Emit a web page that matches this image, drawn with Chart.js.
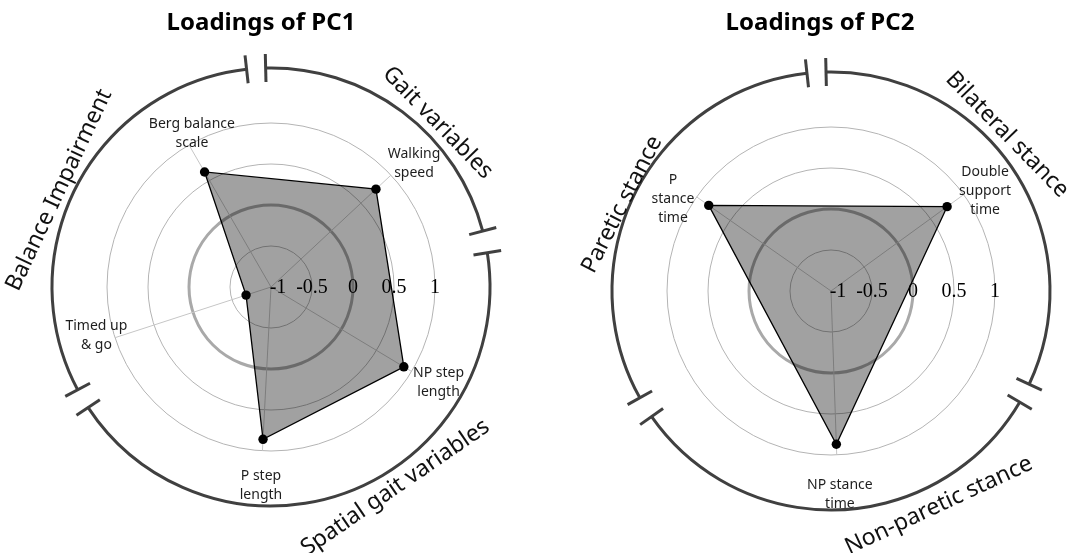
<!DOCTYPE html>
<html>
<head>
<meta charset="utf-8">
<script src="https://cdn.jsdelivr.net/npm/chart.js@4.4.1/dist/chart.umd.min.js"></script>
<style>
  html, body { margin: 0; padding: 0; background: #fff; overflow: hidden; width: 1079px; height: 553px; }
  canvas { position: absolute; top: 0; }
  #pc1 { left: 0; }
  #pc2 { left: 539px; }
</style>
</head>
<body>
<canvas id="pc1" width="540" height="553"></canvas>
<canvas id="pc2" width="540" height="553"></canvas>
<script>
// Radial tick values shared by both panels
const tickValues = [-1, -0.5, 0, 0.5, 1];

// PC1 loadings ("\n" marks where a variable name wraps)
const pc1Variables = ['Berg balance\nscale', 'Walking\nspeed', 'NP step\nlength', 'P step\nlength', 'Timed up\n& go'];
const pc1Loadings = [0.62, 0.75, 0.89, 0.86, -0.68];
const pc1Groups = ['Gait variables', 'Spatial gait variables', 'Balance Impairment'];

// PC2 loadings
const pc2Variables = ['P\nstance\ntime', 'Double\nsupport\ntime', 'NP stance\ntime'];
const pc2Loadings = [0.82, 0.75, 0.87];
const pc2Groups = ['Bilateral stance', 'Non-paretic stance', 'Paretic stance'];

// Layout: bearings are degrees clockwise from 12 o'clock.
// groupText entries: [bearing, distance from centre, text rotation (null = tangent)]
const pc1Layout = {
  canvasLeft: 0, center: [271, 287],
  title: 'Loadings of PC1', titleDx: -10,
  axisBearing: [329.6, 47, 121.4, 182.9, 252.3],
  labelBearing: [332.8, 49.3, 119.6, 182.9, 254.5],
  labelReach: [1.11, 1.30, 1.35, 1.42, 1.21],
  groupArcs: [[-1.4, 75.2], [81, 236.6], [242, 353.6]],
  groupText: [[45.4, 234, 45.7], [148.2, 236, -34.5], [-65.4, 233, -64.8]]
};
const pc2Layout = {
  canvasLeft: 539, center: [831, 291],
  title: 'Loadings of PC2', titleDx: -11,
  axisBearing: [305.2, 54.1, 178.1],
  labelBearing: [300.2, 57, 177.5],
  labelReach: [1.23, 1.24, 1.49],
  groupArcs: [[-1.3, 115.2], [120.5, 235], [240.8, 353.7]],
  groupText: [[48.4, 235.5, 45.8], [153.3, 240, -25], [-67.5, 226, -63]]
};

const SLOTS = 360;          // one angular slot per degree
const RADIUS = 164;         // pixel radius of the +1 ring
const OUTER = 219;          // radius of the grouping arcs
const CANVAS_W = 540, CANVAS_H = 553;

const norm = b => ((b % 360) + 360) % 360;
const rad = d => d * Math.PI / 180;

function slotData(bearings, values) {
  const out = new Array(SLOTS).fill(null);
  bearings.forEach((b, i) => { out[Math.round(norm(b)) % SLOTS] = values[i]; });
  return out;
}
function slotLabels(bearings, names) {
  const out = new Array(SLOTS).fill('');
  bearings.forEach((b, i) => { out[Math.round(norm(b)) % SLOTS] = names[i].replace(/\n/g, ' '); });
  return out;
}

const decorPlugin = {
  id: 'decor',
  afterDatasetsDraw(chart, args, opts) {
    const ctx = chart.ctx;
    const r = chart.scales.r;
    const cx = r.xCenter, cy = r.yCenter;
    const L = opts.layout;
    const at = (bearing, value) => r.getPointPositionForValue(norm(bearing) * SLOTS / 360, value);
    ctx.save();

    // tick values along the 3 o'clock radius
    ctx.font = '20px "Liberation Serif", "Times New Roman", serif';
    ctx.fillStyle = '#000';
    ctx.textAlign = 'center';
    ctx.textBaseline = 'middle';
    tickValues.forEach(v => {
      const d = Math.max(r.getDistanceFromCenterForValue(v), 7);
      ctx.fillText(String(v), cx + d, cy + 1);
    });

    // variable names near the end of each axis
    ctx.font = '14px "Noto Sans", sans-serif';
    ctx.fillStyle = '#1e1e1e';
    opts.variables.forEach((name, i) => {
      const p = at(L.labelBearing[i], L.labelReach[i]);
      const lines = name.split('\n');
      const lh = 19;
      lines.forEach((line, k) => {
        ctx.fillText(line, p.x, p.y + (k - (lines.length - 1) / 2) * lh);
      });
    });

    // grouping arcs with end caps
    ctx.strokeStyle = '#404040';
    ctx.lineWidth = 3;
    ctx.lineCap = 'butt';
    L.groupArcs.forEach(([b0, b1]) => {
      ctx.beginPath();
      ctx.arc(cx, cy, OUTER, rad(b0 - 90), rad(b1 - 90));
      ctx.stroke();
      [b0, b1].forEach(b => {
        const s = Math.sin(rad(b)), c = -Math.cos(rad(b));
        ctx.beginPath();
        ctx.moveTo(cx + s * (OUTER - 14), cy + c * (OUTER - 14));
        ctx.lineTo(cx + s * (OUTER + 14), cy + c * (OUTER + 14));
        ctx.stroke();
      });
    });

    // group names outside the arcs
    ctx.font = '23px "Noto Sans", sans-serif';
    ctx.fillStyle = '#111';
    opts.groups.forEach((name, i) => {
      const [b, d, rotSet] = L.groupText[i];
      let bb = norm(b); if (bb > 180) bb -= 360;
      const x = cx + d * Math.sin(rad(bb));
      const y = cy - d * Math.cos(rad(bb));
      const rot = rotSet != null ? rotSet : (Math.abs(bb) <= 90 ? bb : bb - 180);
      ctx.save();
      ctx.translate(x, y);
      ctx.rotate(rad(rot));
      ctx.fillText(name, 0, 0);
      ctx.restore();
    });

    // panel title
    ctx.font = 'bold 24px "Noto Sans", sans-serif';
    ctx.fillStyle = '#000';
    ctx.fillText(L.title, cx + L.titleDx, 23);

    ctx.restore();
  }
};

function makePanel(canvasId, layout, variables, loadings, groups) {
  const cx = layout.center[0] - layout.canvasLeft;
  const cy = layout.center[1];
  const active = new Set(layout.axisBearing.map(b => Math.round(norm(b)) % SLOTS));
  return new Chart(document.getElementById(canvasId), {
    type: 'radar',
    data: {
      labels: slotLabels(layout.axisBearing, variables),
      datasets: [{
        data: slotData(layout.axisBearing, loadings),
        spanGaps: true,
        fill: 'start',
        backgroundColor: 'rgba(0,0,0,0.37)',
        borderColor: '#000',
        borderWidth: 1.3,
        pointRadius: 4.7,
        pointBackgroundColor: '#000',
        pointBorderWidth: 0,
        tension: 0
      }]
    },
    options: {
      responsive: false,
      animation: false,
      events: [],
      layout: {
        padding: {
          left: cx - RADIUS, right: CANVAS_W - cx - RADIUS,
          top: cy - RADIUS, bottom: CANVAS_H - cy - RADIUS
        }
      },
      plugins: {
        legend: { display: false },
        tooltip: { enabled: false },
        decor: { layout, variables, groups }
      },
      scales: {
        r: {
          min: -1, max: 1,
          startAngle: 0,
          ticks: { stepSize: 0.5, display: false },
          pointLabels: { display: false },
          grid: {
            circular: true,
            color: c => (c.tick && c.tick.value === 0) ? '#a9a9a9' : '#b4b4b4',
            lineWidth: c => (c.tick && c.tick.value === 0) ? 3 : 1
          },
          angleLines: {
            color: '#c6c6c6',
            lineWidth: c => active.has(c.index) ? 1 : 0
          }
        }
      }
    },
    plugins: [decorPlugin]
  });
}

makePanel('pc1', pc1Layout, pc1Variables, pc1Loadings, pc1Groups);
makePanel('pc2', pc2Layout, pc2Variables, pc2Loadings, pc2Groups);
</script>
</body>
</html>
